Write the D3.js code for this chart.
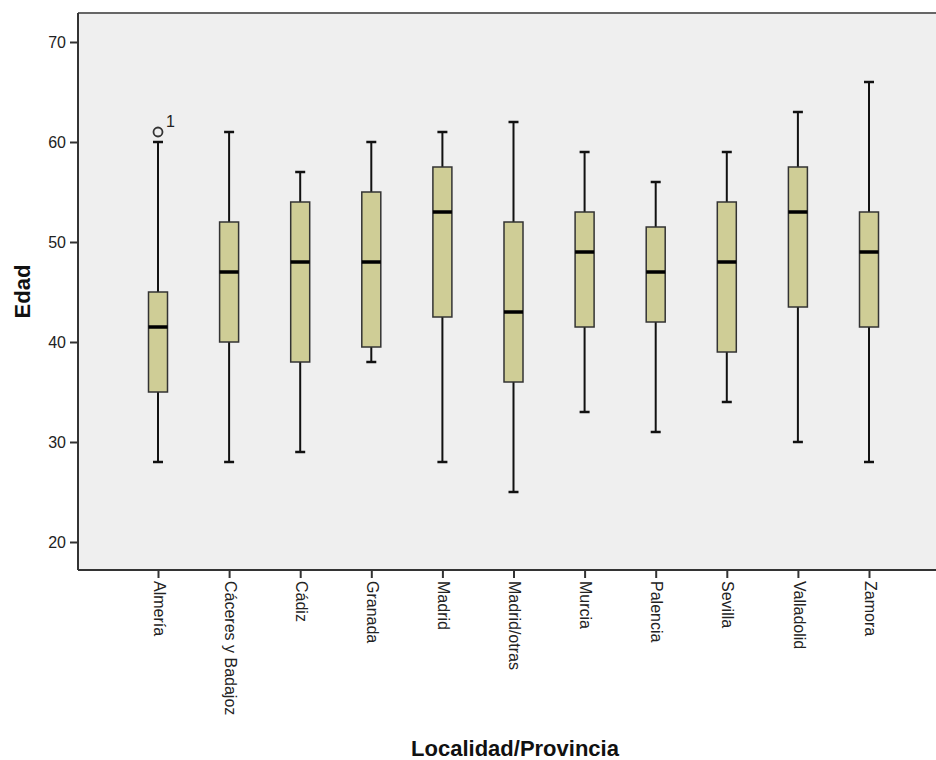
<!DOCTYPE html>
<html lang="es">
<head>
    <meta charset="UTF-8">
    <title>Edad por Localidad/Provincia</title>
    <script src="https://d3js.org/d3.v7.min.js"></script>
    <style>
        body { margin: 0; background: #fff; }
        text { font-family: "Liberation Sans", Arial, sans-serif; }
    </style>
</head>
<body>
<svg id="chart"></svg>

<script>
    // datos
    var categorias = ["Almería", "Cáceres y Badajoz", "Cádiz", "Granada", "Madrid", "Madrid/otras",
                      "Murcia", "Palencia", "Sevilla", "Valladolid", "Zamora"];
    var bigoteInf = [28, 28, 29, 38, 28, 25, 33, 31, 34, 30, 28];
    var q1        = [35, 40, 38, 39.5, 42.5, 36, 41.5, 42, 39, 43.5, 41.5];
    var mediana   = [41.5, 47, 48, 48, 53, 43, 49, 47, 48, 53, 49];
    var q3        = [45, 52, 54, 55, 57.5, 52, 53, 51.5, 54, 57.5, 53];
    var bigoteSup = [60, 61, 57, 60, 61, 62, 59, 56, 59, 63, 66];
    var atipicos  = [{cat: "Almería", valor: 61, etiqueta: "1"}];
    var ticksY    = [20, 30, 40, 50, 60, 70];

    (function() {
        var width = 936;
        var height = 760;
        var left = 78, top = 13, right = 936, bottom = 570;

        var svg = d3.select("#chart")
            .attr("width", width)
            .attr("height", height);

        var x = d3.scalePoint()
            .domain(categorias)
            .range([158, 869]);

        var y = d3.scaleLinear()
            .domain([17.2, 72.9])
            .range([bottom, top]);

        // fondo del área de trazado
        svg.append("rect")
            .attr("x", left).attr("y", top)
            .attr("width", right - left).attr("height", bottom - top)
            .attr("fill", "#efefef");

        // borde superior
        svg.append("line")
            .attr("x1", left).attr("x2", right)
            .attr("y1", top).attr("y2", top)
            .attr("stroke", "#666").attr("stroke-width", 2);

        var datos = categorias.map(function(c, i) {
            return {cat: c, lo: bigoteInf[i], q1: q1[i], med: mediana[i], q3: q3[i], hi: bigoteSup[i]};
        });

        var anchoCaja = 19, anchoTope = 10;

        var g = svg.append("g").attr("class", "cajas");
        var caja = g.selectAll("g").data(datos).enter().append("g");

        // bigotes
        caja.append("line")
            .attr("x1", function(d) { return x(d.cat); })
            .attr("x2", function(d) { return x(d.cat); })
            .attr("y1", function(d) { return y(d.lo); })
            .attr("y2", function(d) { return y(d.hi); })
            .attr("stroke", "#111").attr("stroke-width", 2);

        // topes
        ["lo", "hi"].forEach(function(k) {
            caja.append("line")
                .attr("x1", function(d) { return x(d.cat) - anchoTope / 2; })
                .attr("x2", function(d) { return x(d.cat) + anchoTope / 2; })
                .attr("y1", function(d) { return y(d[k]); })
                .attr("y2", function(d) { return y(d[k]); })
                .attr("stroke", "#111").attr("stroke-width", 2.5);
        });

        // cajas
        caja.append("rect")
            .attr("x", function(d) { return x(d.cat) - anchoCaja / 2; })
            .attr("y", function(d) { return y(d.q3); })
            .attr("width", anchoCaja)
            .attr("height", function(d) { return y(d.q1) - y(d.q3); })
            .attr("fill", "#cfcd96")
            .attr("stroke", "#333")
            .attr("stroke-width", 1.5);

        // mediana
        caja.append("line")
            .attr("x1", function(d) { return x(d.cat) - anchoCaja / 2; })
            .attr("x2", function(d) { return x(d.cat) + anchoCaja / 2; })
            .attr("y1", function(d) { return y(d.med); })
            .attr("y2", function(d) { return y(d.med); })
            .attr("stroke", "#000").attr("stroke-width", 3.5);

        // atípicos
        var at = svg.append("g").selectAll("g").data(atipicos).enter().append("g");
        at.append("circle")
            .attr("cx", function(d) { return x(d.cat); })
            .attr("cy", function(d) { return y(d.valor); })
            .attr("r", 4.5)
            .attr("fill", "none")
            .attr("stroke", "#333")
            .attr("stroke-width", 1.8);
        at.append("text")
            .attr("x", function(d) { return x(d.cat) + 8; })
            .attr("y", function(d) { return y(d.valor) - 5; })
            .attr("font-size", "16px")
            .attr("fill", "#222")
            .text(function(d) { return d.etiqueta; });

        // eje Y
        var ejeY = svg.append("g")
            .attr("transform", "translate(" + left + ",0)")
            .call(d3.axisLeft(y).tickValues(ticksY).tickSize(8).tickPadding(4));
        ejeY.select(".domain").remove();
        ejeY.selectAll(".tick line").attr("stroke", "#333").attr("stroke-width", 2);
        ejeY.selectAll(".tick text").attr("font-size", "16px").attr("fill", "#222")
            .style("font-family", "'Liberation Sans', Arial, sans-serif");
        svg.append("line")
            .attr("x1", left).attr("x2", left)
            .attr("y1", top).attr("y2", bottom)
            .attr("stroke", "#333").attr("stroke-width", 2);

        // eje X
        var ejeX = svg.append("g")
            .attr("transform", "translate(0," + bottom + ")")
            .call(d3.axisBottom(x).tickSize(8).tickPadding(4));
        ejeX.select(".domain").remove();
        ejeX.selectAll(".tick line").attr("stroke", "#333").attr("stroke-width", 2);
        ejeX.selectAll(".tick text")
            .attr("font-size", "16px").attr("fill", "#222")
            .style("font-family", "'Liberation Sans', Arial, sans-serif")
            .attr("text-anchor", "start")
            .attr("transform", "rotate(90)")
            .attr("x", 11).attr("y", 0).attr("dy", "0.3em");
        svg.append("line")
            .attr("x1", left).attr("x2", right)
            .attr("y1", bottom).attr("y2", bottom)
            .attr("stroke", "#333").attr("stroke-width", 2);

        // títulos
        svg.append("text")
            .attr("transform", "translate(30," + ((top + bottom) / 2) + ")rotate(-90)")
            .attr("text-anchor", "middle")
            .attr("font-size", "22px").attr("font-weight", "bold").attr("fill", "#111")
            .text("Edad");

        svg.append("text")
            .attr("x", 515).attr("y", 756)
            .attr("text-anchor", "middle")
            .attr("font-size", "22px").attr("font-weight", "bold").attr("fill", "#111")
            .text("Localidad/Provincia");
    })();
</script>
</body>
</html>
